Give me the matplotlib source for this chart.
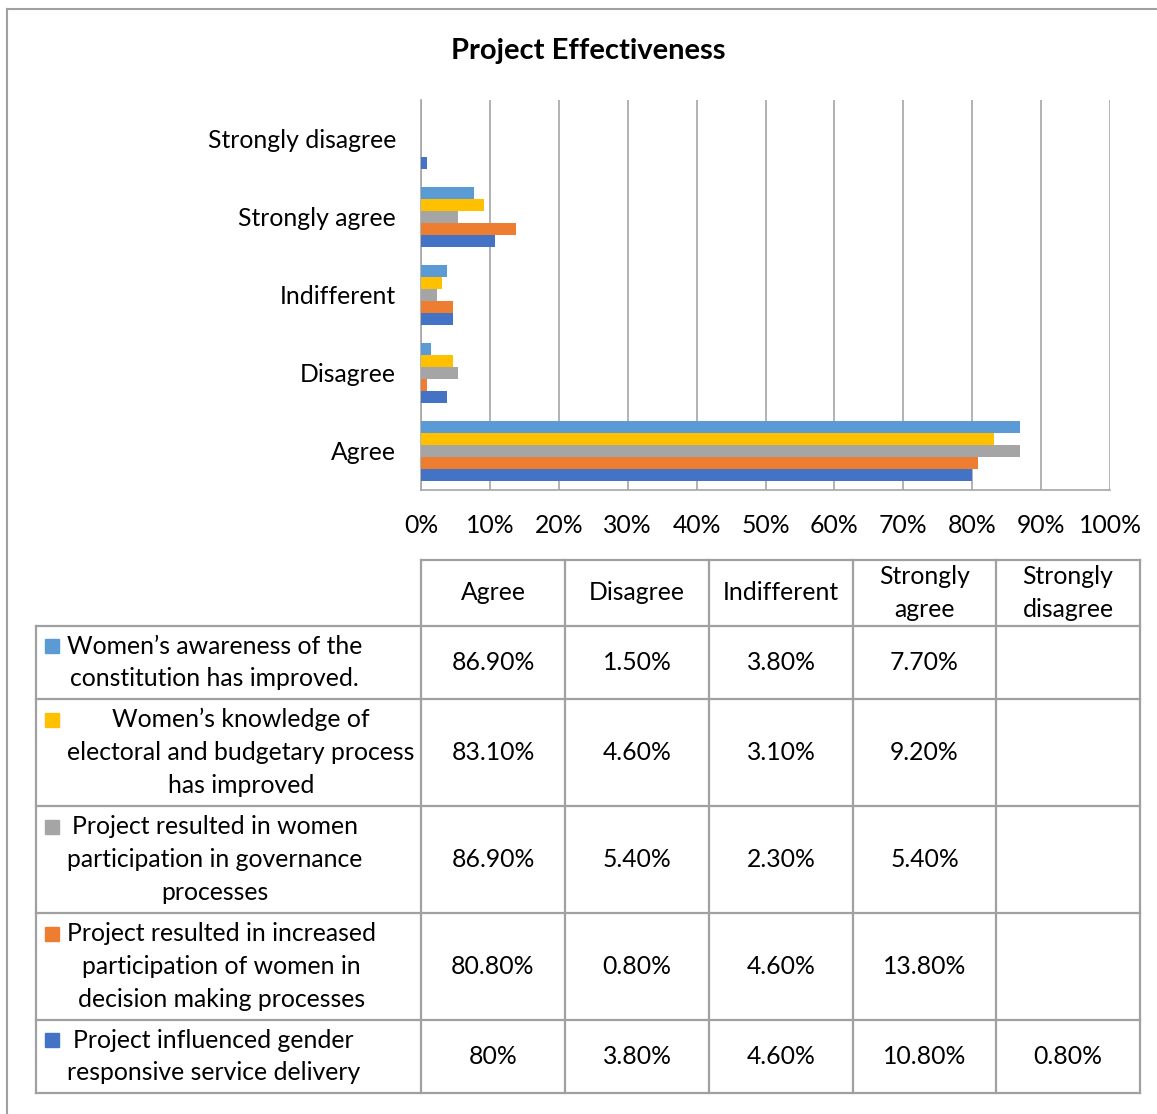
import numpy as np
import matplotlib.pyplot as plt
from matplotlib.patches import Rectangle
from matplotlib.lines import Line2D

plt.rcParams['font.family'] = ['Lato', 'DejaVu Sans']
plt.rcParams['font.size'] = 17.8

# 数据
categories = ['Agree', 'Disagree', 'Indifferent', 'Strongly agree', 'Strongly disagree']
header_labels = ['Agree', 'Disagree', 'Indifferent', 'Strongly\nagree', 'Strongly\ndisagree']
series_labels = [
    "Women\u2019s awareness of the\nconstitution has improved.",
    "Women\u2019s knowledge of\nelectoral and budgetary process\nhas improved",
    "Project resulted in women\nparticipation in governance\nprocesses",
    "Project resulted in increased\nparticipation of women in\ndecision making processes",
    "Project influenced gender\nresponsive service delivery",
]
awareness = [86.9, 1.5, 3.8, 7.7, None]
knowledge = [83.1, 4.6, 3.1, 9.2, None]
governance = [86.9, 5.4, 2.3, 5.4, None]
decision = [80.8, 0.8, 4.6, 13.8, None]
service = [80, 3.8, 4.6, 10.8, 0.8]
series_values = [awareness, knowledge, governance, decision, service]
colors = ['#5B9BD5', '#FFC000', '#A5A5A5', '#ED7D31', '#4472C4']

W, H = 1157, 1114
fig = plt.figure(figsize=(W / 100, H / 100), dpi=100)

# 表格和外框用像素坐标的底层坐标系
bg = fig.add_axes([0, 0, 1, 1], zorder=0)
bg.set_xlim(0, W)
bg.set_ylim(H, 0)
bg.axis('off')

line_c = '#A0A0A0'
bg.add_line(Line2D([7, W], [9, 9], color=line_c, lw=1.5))
bg.add_line(Line2D([7, 7], [9, H], color=line_c, lw=1.5))

fig.text(588 / W, 1 - 51 / H, 'Project Effectiveness', ha='center', va='center',
         fontsize=21, fontweight='bold')

# 条形图
ax = fig.add_axes([421 / W, 1 - 490 / H, 689 / W, 390 / H], zorder=1)
y = np.arange(len(categories))
h = 0.154
for i, (vals, c) in enumerate(zip(series_values, colors)):
    offs = (2 - i) * h
    for j, v in enumerate(vals):
        if v is not None:
            ax.barh(y[j] + offs, v, height=h, color=c, zorder=3)
ax.set_xlim(0, 100)
ax.set_ylim(-0.5, len(categories) - 0.5)
ax.set_xticks(np.arange(0, 101, 10))
ax.set_xticklabels([f'{t}%' for t in range(0, 101, 10)])
ax.set_yticks(y)
ax.set_yticklabels(categories)
ax.tick_params(axis='both', length=0)
ax.tick_params(axis='x', pad=17.5)
ax.tick_params(axis='y', pad=18)
ax.grid(axis='x', color='#A6A6A6', lw=1.2, zorder=0)
ax.set_axisbelow(True)
for s in ['top', 'right']:
    ax.spines[s].set_visible(False)
for s in ['left', 'bottom']:
    ax.spines[s].set_color('#A6A6A6')
    ax.spines[s].set_linewidth(1.2)

# 数据表
col_x = [421, 565, 709, 853, 996, 1140]
row_y = [560, 626, 699, 806, 913, 1020, 1093]
left_x = 36
tl = 1.6
bg.add_line(Line2D([col_x[0], col_x[-1]], [row_y[0]] * 2, color=line_c, lw=tl))
for yy in row_y[1:]:
    bg.add_line(Line2D([left_x, col_x[-1]], [yy, yy], color=line_c, lw=tl))
bg.add_line(Line2D([left_x, left_x], [row_y[1], row_y[-1]], color=line_c, lw=tl))
for xx in col_x:
    bg.add_line(Line2D([xx, xx], [row_y[0], row_y[-1]], color=line_c, lw=tl))

ls = 1.52
line_px = 32.5
for k, lab in enumerate(header_labels):
    bg.text((col_x[k] + col_x[k + 1]) / 2, (row_y[0] + row_y[1]) / 2, lab,
            ha='center', va='center', multialignment='center', linespacing=ls)


def fmt(v):
    if v is None:
        return ''
    return f'{v:g}%' if v == int(v) else f'{v:.2f}%'


for r, (lab, vals, c) in enumerate(zip(series_labels, series_values, colors)):
    yc = (row_y[r + 1] + row_y[r + 2]) / 2
    n = lab.count('\n') + 1
    y_first = yc - (n - 1) / 2 * line_px
    bg.add_patch(Rectangle((45, y_first - 7), 14, 14, color=c))
    bg.text(67, yc, lab, ha='left', va='center', multialignment='center', linespacing=ls)
    for k, v in enumerate(vals):
        bg.text((col_x[k] + col_x[k + 1]) / 2, yc, fmt(v), ha='center', va='center')

fig.savefig('out.png', dpi=100)
